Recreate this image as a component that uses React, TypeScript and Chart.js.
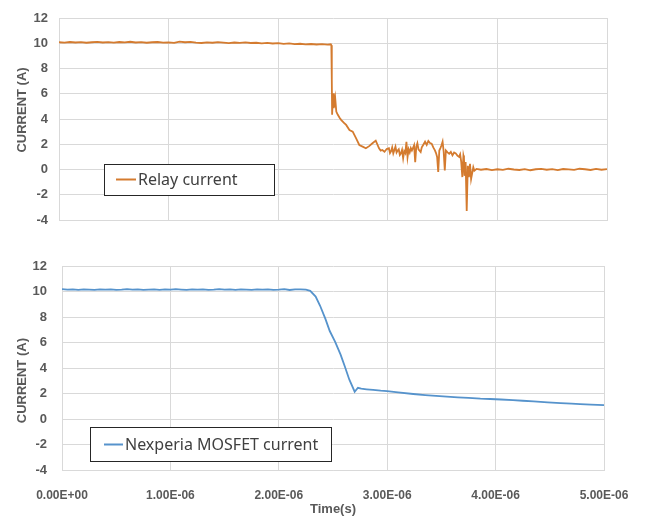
import React, { useEffect, useRef } from "react";
import { Chart, registerables } from "chart.js";
Chart.register(...registerables);

// Time in microseconds, current in amperes
const relayTimeUs = [
  0.0, 0.05, 0.1, 0.15, 0.2, 0.25, 0.3, 0.35, 0.4, 0.45, 0.5, 0.55, 0.6, 0.65, 0.7, 0.75, 0.8, 0.85, 0.9, 0.95,
  1.0, 1.05, 1.1, 1.15, 1.2, 1.25, 1.3, 1.35, 1.4, 1.45, 1.5, 1.55, 1.6, 1.65, 1.7, 1.75, 1.8, 1.85, 1.9, 1.95,
  2.0, 2.05, 2.1, 2.15, 2.2, 2.25, 2.3, 2.35, 2.4, 2.45, 2.48,
  2.485, 2.489, 2.492, 2.5, 2.507, 2.52, 2.53, 2.544, 2.56, 2.574, 2.6, 2.62, 2.65, 2.68, 2.71, 2.74, 2.77, 2.8,
  2.83, 2.86, 2.89, 2.92, 2.935, 2.95, 2.97, 2.99, 3.01, 3.02, 3.03, 3.04, 3.05, 3.07, 3.08, 3.09, 3.1, 3.11,
  3.12, 3.13, 3.14, 3.15, 3.16, 3.17, 3.18, 3.19, 3.2,
  3.21, 3.22, 3.24, 3.25, 3.26, 3.27, 3.28, 3.3, 3.31, 3.32, 3.34, 3.355, 3.37, 3.385, 3.4, 3.415, 3.43, 3.44,
  3.45, 3.46, 3.47, 3.48, 3.49, 3.5, 3.51, 3.52, 3.53, 3.545,
  3.56, 3.575, 3.59, 3.605, 3.62, 3.635, 3.65, 3.66, 3.67, 3.68, 3.69, 3.695, 3.7, 3.71, 3.72, 3.73, 3.74, 3.75,
  3.76, 3.78, 3.79, 3.81,
  3.85, 3.9, 3.95, 4.0, 4.05, 4.1, 4.15, 4.2, 4.25, 4.3, 4.35, 4.4, 4.45, 4.5, 4.55, 4.6, 4.65, 4.7, 4.75, 4.8,
  4.85, 4.9, 4.95, 5.0,
];
const relayCurrent = [
  10.08, 10.05, 10.1, 10.06, 10.09, 10.04, 10.08, 10.11, 10.06, 10.09, 10.05, 10.1, 10.07, 10.12, 10.06, 10.09, 10.04, 10.08, 10.1, 10.05,
  10.07, 10.03, 10.13, 10.08, 10.11, 10.05, 10.02, 10.07, 10.04, 10.09, 10.05, 10.01, 10.06, 10.03, 10.07, 10.02, 10.04, 9.99, 10.03, 9.98,
  10.01, 9.95, 9.99, 9.93, 9.96, 9.91, 9.94, 9.9, 9.93, 9.89, 9.92,
  9.85, 7.1, 4.33, 6.04, 4.86, 5.65, 4.59, 4.33, 4.1, 3.93, 3.7, 3.53, 3.13, 3.0, 2.48, 1.94, 1.81, 1.68,
  1.85, 2.08, 2.29, 1.68, 1.5, 1.55, 1.41, 1.62, 1.68, 1.3, 1.45, 1.75, 1.28, 1.81, 1.35, 1.5, 1.6, 1.15,
  1.28, 1.55, 0.89, 1.45, 1.3, 2.2, 0.98, 1.6, 1.35,
  1.7, 1.5, 1.92, 0.58, 1.8, 2.08, 1.6, 1.38, 1.75, 1.9, 2.2, 1.95, 2.26, 2.1, 2.05, 1.75, 1.52, 1.3,
  1.0, -0.2, 1.5, 1.7, 1.92, 2.2, 1.4, -0.08, 1.5, 1.35,
  1.25, 1.4, 1.12, 1.35, 1.28, 1.1, 1.0, 1.2, 0.6, -0.6, 1.1, 0.9, -0.5, 0.6, -3.28, 0.3, -0.6, 0.45,
  -0.75, 0.18, -0.1, 0.05,
  -0.02, 0.04, -0.05, 0.02, -0.03, 0.06, 0.0, -0.04, 0.03, -0.06, 0.02, 0.05, -0.02, 0.03, -0.05, 0.04, 0.01, -0.03, 0.06, 0.02,
  -0.04, 0.05, -0.02, 0.03,
];

const mosfetTimeUs = [
  0.0, 0.05, 0.1, 0.15, 0.2, 0.25, 0.3, 0.35, 0.4, 0.45, 0.5, 0.55, 0.6, 0.65, 0.7, 0.75, 0.8, 0.85, 0.9, 0.95,
  1.0, 1.05, 1.1, 1.15, 1.2, 1.25, 1.3, 1.35, 1.4, 1.45, 1.5, 1.55, 1.6, 1.65, 1.7, 1.75, 1.8, 1.85, 1.9, 1.95,
  2.0, 2.05, 2.1, 2.15, 2.2, 2.25, 2.29, 2.34, 2.38, 2.43, 2.47, 2.52, 2.57, 2.61, 2.65, 2.7, 2.73, 2.76, 2.81,
  2.87, 2.94, 3.0, 3.1, 3.24, 3.35, 3.45, 3.55, 3.65, 3.75, 3.86, 3.95, 4.05, 4.16, 4.25, 4.35, 4.48, 4.6, 4.7,
  4.78, 4.88, 5.0,
];
const mosfetCurrent = [
  10.18, 10.14, 10.16, 10.13, 10.17, 10.15, 10.12, 10.16, 10.14, 10.17, 10.13, 10.15, 10.18, 10.14, 10.16, 10.12, 10.15, 10.17, 10.13, 10.16,
  10.14, 10.18, 10.15, 10.12, 10.16, 10.14, 10.17, 10.13, 10.15, 10.18, 10.14, 10.16, 10.13, 10.17, 10.15, 10.12, 10.16, 10.14, 10.17, 10.13,
  10.15, 10.18, 10.12, 10.16, 10.17, 10.14, 10.05, 9.6, 8.9, 7.85, 6.9, 6.05, 5.05, 4.1, 3.1, 2.14, 2.45, 2.38, 2.33,
  2.28, 2.22, 2.18, 2.08, 1.96, 1.88, 1.81, 1.75, 1.7, 1.66, 1.6, 1.57, 1.53, 1.48, 1.43, 1.38, 1.31, 1.25, 1.21,
  1.17, 1.13, 1.09,
];

const xTicksUs = [0, 1, 2, 3, 4, 5];
const yMin = -4;
const yMax = 12;
const yStep = 2;

const relayLabel = "Relay current";
const mosfetLabel = "Nexperia MOSFET current";
const yTitle = "CURRENT (A)";
const xTitle = "Time(s)";

function fmtSci(us: number): string {
  const v = us * 1e-6;
  if (Math.abs(v) < 1e-15) return "0.00E+00";
  const s = v.toExponential(2);
  const [m, e] = s.split("e");
  const n = parseInt(e, 10);
  return m + "E" + (n < 0 ? "-" : "+") + String(Math.abs(n)).padStart(2, "0");
}

const GRID = "#d9d9d9";
const TXT = "#595959";
const NONE = "rgba(0,0,0,0)";

const boxLegend = {
  id: "boxLegend",
  afterDraw(chart: any, _args: any, opts: any) {
    const { ctx } = chart;
    const ds = chart.data.datasets[0];
    ctx.save();
    ctx.fillStyle = "#ffffff";
    ctx.fillRect(opts.x, opts.y, opts.w, opts.h);
    ctx.strokeStyle = "#262626";
    ctx.lineWidth = 1;
    ctx.strokeRect(opts.x + 0.5, opts.y + 0.5, opts.w, opts.h);
    ctx.strokeStyle = ds.borderColor;
    ctx.lineWidth = 2;
    ctx.beginPath();
    ctx.moveTo(opts.lineX, opts.midY);
    ctx.lineTo(opts.lineX + opts.lineLen, opts.midY);
    ctx.stroke();
    ctx.font = '16px "Noto Sans"';
    ctx.fillStyle = "#404040";
    ctx.textBaseline = "middle";
    ctx.textAlign = "left";
    ctx.fillText(ds.label, opts.textX, opts.midY + 1);
    ctx.restore();
  },
};

function makeConfig(
  times: number[],
  values: number[],
  label: string,
  color: string,
  width: number,
  showX: boolean,
  axisW: number,
  axisH: number,
  pad: any,
  legend: any,
  titleText: string,
  yTickGap: number
): any {
  return {
    type: "line",
    data: {
      datasets: [
        {
          label,
          data: times.map((t, i) => ({ x: t, y: values[i] })),
          borderColor: color,
          borderWidth: width,
          pointRadius: 0,
          tension: 0,
          fill: false,
        },
      ],
    },
    plugins: [boxLegend],
    options: {
      animation: false,
      responsive: false,
      devicePixelRatio: 1,
      layout: { padding: pad },
      plugins: {
        legend: { display: false },
        tooltip: { enabled: false },
        boxLegend: legend,
      },
      scales: {
        x: {
          type: "linear",
          min: 0,
          max: 5,
          afterBuildTicks: (scale: any) => {
            scale.ticks = xTicksUs.map((v) => ({ value: v }));
          },
          afterFit: (scale: any) => {
            scale.height = axisH;
          },
          grid: { color: GRID, lineWidth: 1, drawTicks: showX, tickLength: 18, tickColor: NONE },
          border: { color: GRID },
          ticks: {
            display: showX,
            padding: 0,
            color: TXT,
            font: { family: "Liberation Sans", weight: "bold", size: 12 },
            callback: (v: any) => fmtSci(Number(v)),
            maxRotation: 0,
          },
          title: {
            display: showX,
            text: xTitle,
            color: TXT,
            padding: { top: 0, bottom: 0 },
            font: { family: "Liberation Sans", weight: "bold", size: 13 },
          },
        },
        y: {
          min: yMin,
          max: yMax,
          afterFit: (scale: any) => {
            scale.width = axisW;
          },
          grid: { color: GRID, lineWidth: 1, drawTicks: true, tickLength: yTickGap, tickColor: NONE },
          border: { color: GRID },
          ticks: {
            stepSize: yStep,
            padding: 0,
            color: TXT,
            font: { family: "Liberation Sans", weight: "bold", size: 13 },
          },
          title: {
            display: true,
            text: titleText,
            color: TXT,
            padding: { top: 15, bottom: 0 },
            font: { family: "Liberation Sans", weight: "bold", size: 13 },
          },
        },
      },
    },
  };
}

export default function App() {
  const topRef = useRef<HTMLCanvasElement>(null);
  const botRef = useRef<HTMLCanvasElement>(null);

  useEffect(() => {
    const top = new Chart(
      topRef.current as HTMLCanvasElement,
      makeConfig(
        relayTimeUs,
        relayCurrent,
        relayLabel,
        "#D47B2F",
        1.8,
        false,
        59,
        15,
        { top: 18, right: 41, left: 0, bottom: 0 },
        { x: 104, y: 164, w: 170, h: 31, lineX: 116, lineLen: 20, midY: 179.5, textX: 138 },
        "     " + yTitle,
        11
      )
    );
    const bot = new Chart(
      botRef.current as HTMLCanvasElement,
      makeConfig(
        mosfetTimeUs,
        mosfetCurrent,
        mosfetLabel,
        "#5693CC",
        1.8,
        true,
        62,
        47,
        { top: 26, right: 44, left: 0, bottom: 0 },
        { x: 90, y: 187, w: 241, h: 34, lineX: 104, lineLen: 19, midY: 204.5, textX: 125 },
        yTitle + "       ",
        15
      )
    );
    return () => {
      top.destroy();
      bot.destroy();
    };
  }, []);

  return (
    <div style={{ position: "absolute", left: 0, top: 0, width: 648, height: 517, background: "#ffffff" }}>
      <canvas
        ref={topRef}
        width={648}
        height={235}
        style={{ position: "absolute", left: 0, top: 0, width: 648, height: 235, display: "block" }}
      />
      <canvas
        ref={botRef}
        width={648}
        height={277}
        style={{ position: "absolute", left: 0, top: 240, width: 648, height: 277, display: "block" }}
      />
    </div>
  );
}
